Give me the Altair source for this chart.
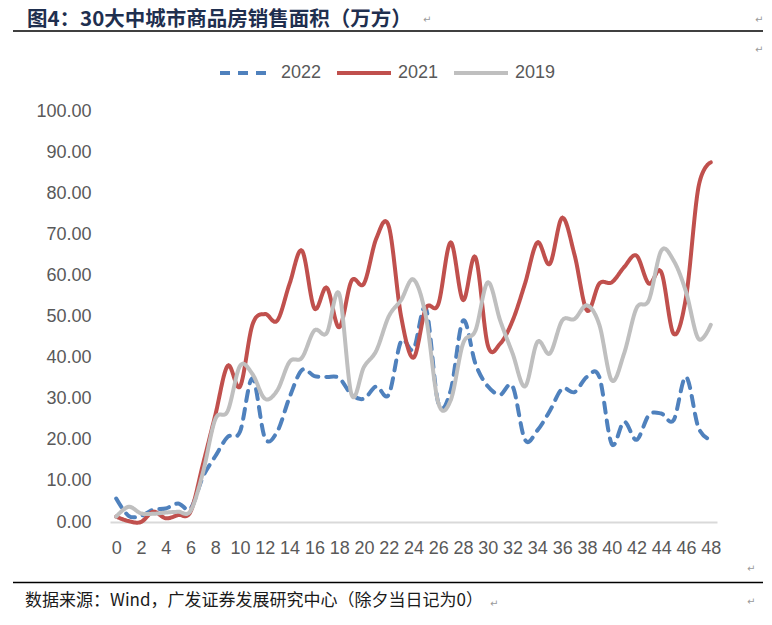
import altair as alt
import pandas as pd

# ---- data ----
weeks = list(range(0, 49))
s2022 = [5.7, 1.5, 1.5, 3.0, 3.3, 4.5, 3.3, 11, 16, 20.7, 22, 35, 20.5, 22, 30.4, 37, 35.5,
         35.3, 35, 31, 30, 33, 31, 44, 42, 52, 29, 32, 49, 38.5, 33, 31, 33, 20, 22.3, 27,
         32.4, 31.6, 35.3, 35.3, 19, 24.4, 20, 26, 26.4, 24.8, 35.3, 23, 20]
s2021 = [1.3, 0.2, 0.0, 2.5, 0.9, 1.7, 2.5, 14, 26, 38, 33, 48, 50.6, 49, 58, 66, 52,
         57, 47.4, 58.7, 58, 69, 72, 50, 40, 52, 53, 68, 54, 64.4, 43, 43.4, 49, 58, 68,
         62.8, 74, 65, 51.5, 58, 58.3, 62, 64.8, 58, 60.8, 45.8, 54.7, 81.4, 87.5]
s2019 = [1.3, 3.7, 2.1, 2.0, 2.3, 2.5, 2.7, 12, 25, 27, 38, 36, 30, 32, 39, 40, 46.6,
         46, 55.5, 31, 37.7, 41.7, 50, 54, 59, 50, 29, 29.6, 43.4, 46.6, 58.3, 49, 41, 33,
         43.8, 41, 49, 49.4, 52.7, 48, 34.5, 41, 52, 54, 66, 63.6, 56, 44.6, 48]
series_names = ["2022", "2021", "2019"]
series_colors = ["#4f81bd", "#c0504d", "#bfbfbf"]
x_ticks = list(range(0, 49, 2))
y_ticks = list(range(0, 101, 10))

title_text = "图4：30大中城市商品房销售面积（万方）"
source_text = "数据来源：Wind，广发证券发展研究中心（除夕当日记为0）"

rows = []
for name, vals in zip(series_names, [s2022, s2021, s2019]):
    for w, v in zip(weeks, vals):
        rows.append({"week": w, "value": v, "series": name})
df = pd.DataFrame(rows)

legend_kw = dict(orient="none", direction="horizontal", legendX=108, legendY=-67,
                 title=None, symbolType="stroke", symbolSize=2916, symbolStrokeWidth=4,
                 labelFontSize=18, labelFont="Liberation Sans", labelColor="#595959",
                 labelOffset=5, columnPadding=7, padding=0)

lines = alt.Chart(df).mark_line(
    interpolate="cardinal", strokeWidth=4, strokeCap="round", strokeJoin="round"
).encode(
    x=alt.X("week:Q",
            scale=alt.Scale(domain=[-0.5, 48.5], nice=False, zero=False),
            axis=alt.Axis(values=x_ticks, title=None, grid=False, ticks=False,
                          labelPadding=17, labelFontSize=18, labelColor="#595959",
                          labelFont="Liberation Sans", labelOverlap=False, labelFlush=False,
                          domainColor="#d9d9d9", domainWidth=2)),
    y=alt.Y("value:Q",
            scale=alt.Scale(domain=[0, 100], nice=False),
            axis=alt.Axis(values=y_ticks, format=".2f", title=None, grid=False,
                          ticks=False, domain=False, labelPadding=19, labelFontSize=18,
                          labelColor="#595959", labelFont="Liberation Sans")),
    color=alt.Color("series:N",
                    scale=alt.Scale(domain=series_names, range=series_colors),
                    legend=alt.Legend(**legend_kw)),
    strokeDash=alt.StrokeDash("series:N",
                              scale=alt.Scale(domain=series_names,
                                              range=[[10, 8], [1, 0], [1, 0]]),
                              legend=alt.Legend(**legend_kw)),
)

one = pd.DataFrame({"k": [0]})

def text_layer(txt, x, y, size, color, font, weight="normal"):
    return alt.Chart(one).mark_text(
        text=txt, align="left", baseline="middle", fontSize=size, color=color,
        font=font, fontWeight=weight
    ).encode(x=alt.value(x), y=alt.value(y))

def hline(y, x1, x2):
    return alt.Chart(one).mark_rule(color="#000000", strokeWidth=1.5).encode(
        x=alt.value(x1), x2=alt.value(x2), y=alt.value(y))

title = text_layer(title_text, -83, -91, 20.5, "#1f2f4f", "Noto Sans CJK SC", "bold")
source = text_layer(source_text, -85, 490, 17, "#1a1a1a", "Noto Sans CJK SC")
top_rule = hline(-80, -97, 654)
bottom_rule = hline(471.5, -97, 654)

marks = []
for (mx, my) in [(313, -91), (645, -91), (645, -61), (380, 493), (637, 458), (637, 491)]:
    marks.append(text_layer("↵", mx, my, 10, "#9a9a9a", "DejaVu Sans"))

chart = alt.layer(lines, title, source, top_rule, bottom_rule, *marks).properties(
    width=607, height=411,
    padding={"left": 102, "top": 103, "right": 46, "bottom": 95},
    autosize=alt.AutoSizeParams(type="none"),
    background="#ffffff",
).configure_view(stroke=None)

chart.save("out.html", embed_options={"renderer": "svg", "actions": False})
